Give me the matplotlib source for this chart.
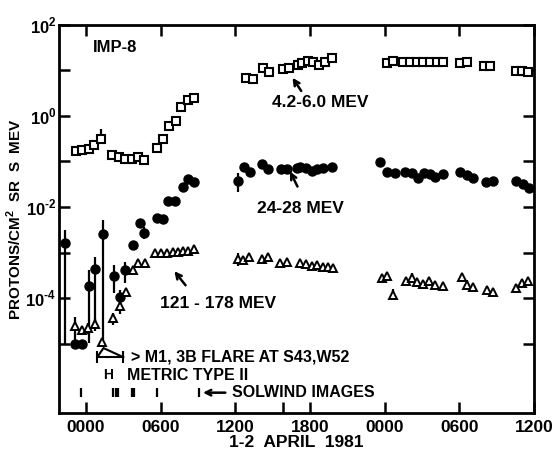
import numpy as np
import matplotlib.pyplot as plt

plt.rcParams['font.family'] = ['Liberation Sans', 'DejaVu Sans']
plt.rcParams['font.weight'] = 'bold'
plt.rcParams['mathtext.fontset'] = 'custom'
plt.rcParams['mathtext.rm'] = 'Liberation Sans:bold'
plt.rcParams['mathtext.bf'] = 'Liberation Sans:bold'

# time: hours after 0000 UT 1 April 1981, flux: log10(protons/cm2 sr s MeV)
sq_t = [-0.83, -0.32, 0.24, 0.64, 1.21, 2.09, 2.65, 3.14, 3.70, 4.18, 4.66,
        5.71, 6.19, 6.67, 7.23, 7.64, 8.20, 8.68,
        12.86, 13.42, 14.23, 14.71, 15.84, 16.32, 17.04, 17.36, 17.85, 18.25,
        18.73, 19.21, 19.77,
        24.20, 24.68, 25.48, 26.05, 26.61, 27.09, 27.65, 28.22, 28.70,
        30.06, 30.63, 31.99, 32.48, 34.57, 35.05, 35.53]
sq_log = [-0.78, -0.75, -0.73, -0.64, -0.51, -0.86, -0.90, -0.95, -0.95, -0.90, -0.97,
          -0.70, -0.51, -0.22, -0.11, 0.20, 0.35, 0.40,
          0.84, 0.81, 1.05, 0.97, 1.03, 1.05, 1.12, 1.16, 1.21, 1.19,
          1.12, 1.19, 1.27,
          1.16, 1.21, 1.19, 1.19, 1.19, 1.19, 1.19, 1.19, 1.19,
          1.16, 1.19, 1.10, 1.10, 0.99, 0.99, 0.97]

ci_t = [-1.69, -0.88, -0.32, 0.24, 0.72, 1.37, 2.25, 2.73, 3.14, 3.78, 4.34, 4.66,
        5.71, 6.19, 6.59, 7.15, 7.80, 8.20, 8.68,
        12.22, 12.70, 13.18, 14.15, 14.63, 15.68, 16.16, 16.96, 17.20, 17.68,
        18.17, 18.57, 19.05, 19.77,
        23.63, 24.20, 24.84, 25.64, 26.21, 26.69, 27.17, 27.65, 28.05, 28.70,
        30.06, 30.63, 31.11, 32.15, 32.72, 34.57, 35.13, 35.61]
ci_log = [-2.79, -5.00, -5.00, -3.74, -3.36, -2.59, -3.52, -3.98, -3.38, -2.84, -2.35, -2.57,
          -2.24, -2.26, -1.87, -1.87, -1.56, -1.38, -1.45,
          -1.43, -1.12, -1.23, -1.05, -1.16, -1.16, -1.16, -1.14, -1.12, -1.14,
          -1.21, -1.16, -1.14, -1.12,
          -1.01, -1.23, -1.25, -1.23, -1.25, -1.36, -1.25, -1.27, -1.34, -1.27,
          -1.23, -1.30, -1.36, -1.45, -1.43, -1.43, -1.49, -1.58]

tr_t = [-0.88, -0.32, 0.16, 0.72, 1.29, 2.17, 2.73, 3.22, 3.78, 4.18, 4.74,
        5.55, 6.03, 6.51, 6.99, 7.40, 7.80, 8.20, 8.68,
        12.22, 12.62, 13.10, 14.15, 14.63, 15.59, 16.16, 17.20, 17.68, 18.17,
        18.57, 19.05, 19.45, 19.86,
        23.79, 24.20, 24.68, 25.72, 26.21, 26.61, 27.09, 27.57, 28.05, 28.70,
        30.23, 30.63, 31.11, 32.23, 32.72, 34.57, 35.05, 35.53]
tr_log = [-4.62, -4.70, -4.66, -4.57, -4.97, -4.44, -4.18, -3.87, -3.38, -3.23, -3.23,
          -3.01, -3.01, -3.01, -2.99, -2.99, -2.97, -2.97, -2.92,
          -3.14, -3.16, -3.10, -3.14, -3.10, -3.23, -3.21, -3.23, -3.25, -3.30,
          -3.27, -3.32, -3.32, -3.35,
          -3.56, -3.52, -3.93, -3.63, -3.56, -3.65, -3.69, -3.63, -3.71, -3.74,
          -3.54, -3.71, -3.76, -3.82, -3.87, -3.78, -3.67, -3.63]

# error bars: time, log10 low, log10 high
err_t = [1.21, 0.24, -1.69, 0.24, 0.72, 1.37, 2.25, 2.73, 3.14, 4.66, 12.22, 26.69,
         -0.88, 0.16, 0.72, 2.17, 2.73, 12.22, 17.68, 24.68, 26.21, 30.63, 34.57]
err_lo = [-0.59, -0.80, -5.00, -4.99, -4.55, -4.99, -3.89, -4.20, -3.67, -2.70, -1.67, -1.45,
          -4.99, -4.80, -4.72, -4.59, -4.35, -3.30, -3.35, -4.05, -3.66, -3.82, -3.88]
err_hi = [-0.29, -0.65, -2.51, -3.38, -3.10, -2.29, -3.27, -3.82, -3.21, -2.45, -1.25, -1.30,
          -4.42, -4.55, -4.45, -4.33, -4.05, -3.00, -3.18, -3.80, -3.45, -3.60, -3.70]

solwind_t = [-0.40, 2.17, 2.37, 2.57, 3.70, 3.86, 5.71, 9.08]

xticks = [0, 6, 12, 18, 24, 30, 36]
xticklabels = ['0000', '0600', '1200', '1800', '0000', '0600', '1200']
yexp = [-5, -4, -3, -2, -1, 0, 1, 2]
yticklabels = ['', r'$10^{\text{-}4}$', '', r'$10^{\text{-}2}$', '', r'$10^{0}$', '', r'$10^{2}$']

fig = plt.figure(figsize=(5.52, 4.54), dpi=100)
ax = fig.add_axes([0.107, 0.090, 0.860, 0.855])

ax.vlines(err_t, 10.0 ** np.array(err_lo), 10.0 ** np.array(err_hi), color='black', lw=1.6)
ax.plot(sq_t, 10.0 ** np.array(sq_log), 's', ms=5.5, mfc='white', mec='black', mew=1.5)
ax.plot(ci_t, 10.0 ** np.array(ci_log), 'o', ms=6.5, mfc='black', mec='black')
ax.plot(tr_t, 10.0 ** np.array(tr_log), '^', ms=5.5, mfc='white', mec='black', mew=1.4)

ax.set_yscale('log')
ax.set_xlim(-2.17, 36)
ax.set_ylim(10 ** -6.53, 10 ** 2)

ax.set_yticks([10.0 ** k for k in yexp])
ax.set_yticklabels(yticklabels)
ax.yaxis.set_minor_locator(plt.NullLocator())
ax.set_xticks(xticks)
ax.set_xticklabels(xticklabels)
ax.set_xticks([15.85], minor=True)
ax.tick_params(which='both', direction='in', length=8, width=1.8, labelsize=12.5,
               top=True, right=True, pad=5)
ax.tick_params(axis='x', which='minor', top=False)
ax.tick_params(axis='y', pad=2, labelsize=12)
for s in ax.spines.values():
    s.set_linewidth(2)

ax.set_xlabel('1-2  APRIL  1981', fontsize=12.5, fontweight='bold', labelpad=0)
ax.set_ylabel('PROTONS/CM$^{2}$  SR  S  MEV', fontsize=11, fontweight='bold')
ax.yaxis.set_label_coords(-0.073, 0.5)

ax.text(0.072, 0.941, 'IMP-8', transform=ax.transAxes, fontsize=12, va='center')

arrow = dict(arrowstyle='->', lw=1.8, color='black', shrinkA=0, shrinkB=0)
ax.text(14.95, 10 ** 0.29, '4.2-6.0 MEV', fontsize=12.5, va='center')
ax.annotate('', xy=(16.6, 10 ** 0.84), xytext=(17.3, 10 ** 0.55), arrowprops=arrow)
ax.text(13.75, 10 ** -2.04, '24-28 MEV', fontsize=12.5, va='center')
ax.annotate('', xy=(16.4, 10 ** -1.22), xytext=(17.0, 10 ** -1.55), arrowprops=arrow)
ax.text(5.95, 10 ** -4.11, '121 - 178 MEV', fontsize=12.5, va='center')
ax.annotate('', xy=(7.1, 10 ** -3.41), xytext=(8.0, 10 ** -3.72), arrowprops=arrow)

# flare interval and peak
ax.plot([0.9, 1.4, 3.0], [10 ** -5.30, 10 ** -5.10, 10 ** -5.30], color='black', lw=1.5)
ax.errorbar([1.95], [10 ** -5.30], xerr=[[1.05], [1.05]], fmt='none', ecolor='black',
            elinewidth=1.5, capsize=4, capthick=1.5)
ax.text(3.65, 10 ** -5.30, '> M1, 3B FLARE AT S43,W52', fontsize=11.5, va='center')
ax.text(1.75, 10 ** -5.70, 'H', fontsize=10, ha='center', va='center')
ax.text(3.3, 10 ** -5.70, 'METRIC TYPE II', fontsize=11.5, va='center')

ax.vlines(solwind_t, 10 ** -6.18, 10 ** -5.98, color='black', lw=1.6)
ax.annotate('', xy=(9.4, 10 ** -6.08), xytext=(11.2, 10 ** -6.08), arrowprops=arrow)
ax.text(11.7, 10 ** -6.08, 'SOLWIND IMAGES', fontsize=11.5, va='center')

fig.savefig('out.png', dpi=100)
